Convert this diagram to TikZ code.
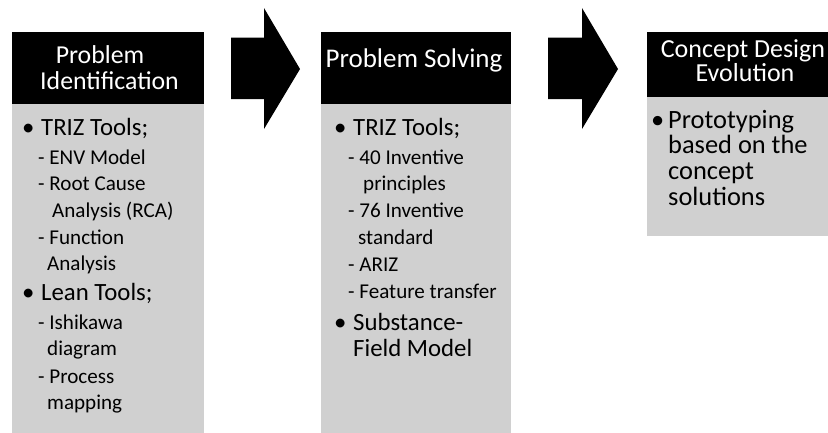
\documentclass[tikz,border=0pt]{standalone}
\usepackage{fontspec}
\setmainfont{Carlito}
\definecolor{bodygray}{RGB}{208,208,208}
\begin{document}
\begin{tikzpicture}[x=1pt,y=-1pt,
  hdr/.style={fill=black},
  bodybox/.style={fill=bodygray},
  blockarrow/.style={fill=black},
  htext/.style={text=white,inner sep=0pt,anchor=base,font=\fontsize{25.8}{25.8}\selectfont},
  btext/.style={inner sep=0pt,anchor=base west,font=\fontsize{24.8}{24.8}\selectfont},
  ctext/.style={inner sep=0pt,anchor=base west,font=\fontsize{26.4}{26.4}\selectfont},
  stext/.style={inner sep=0pt,anchor=base west,font=\fontsize{21.1}{21.1}\selectfont}]
\useasboundingbox (0,0) rectangle (828,432);
\clip (0,0) rectangle (828,432);
% boxes
\fill[bodybox] (12,104) rectangle (204,440);
\fill[hdr] (12,32) rectangle (204,104);
\fill[bodybox] (321,104) rectangle (511,440);
\fill[hdr] (321,32) rectangle (511,104);
\fill[bodybox] (647,97) rectangle (839,236);
\fill[hdr] (647,32) rectangle (839,97);
% block arrows
\fill[blockarrow] (231,37.5) -- (264,37.5) -- (264,8) -- (300,69) -- (264,129) -- (264,99) -- (231,99) -- cycle;
\fill[blockarrow] (548,37.5) -- (582,37.5) -- (582,8) -- (618,69) -- (582,129) -- (582,99) -- (548,99) -- cycle;
% headers
\node[htext] (h1a) at (100,63) {Problem};
\node[htext] (h1b) at (109.5,89) {Identification};
\node[htext,font=\fontsize{27}{27}\selectfont] (h2) at (414,67) {Problem Solving};
\node[htext,font=\fontsize{26}{26}\selectfont] (h3a) at (743,57) {Concept Design};
\node[htext,font=\fontsize{26}{26}\selectfont] (h3b) at (745,81) {Evolution};
% box 1
\node[btext] (p1b1) at (22,135) {•};
\node[btext] (p1t1) at (41,135) {TRIZ Tools;};
\node[stext] (p1s1) at (38,164) {- ENV Model};
\node[stext] (p1s2) at (38,190.7) {- Root Cause};
\node[stext] (p1s3) at (52,217) {Analysis (RCA)};
\node[stext] (p1s4) at (38,244) {- Function};
\node[stext] (p1s5) at (47,270.7) {Analysis};
\node[btext] (p1b2) at (22,300) {•};
\node[btext] (p1t2) at (41,300) {Lean Tools;};
\node[stext] (p1s6) at (38,329) {- Ishikawa};
\node[stext] (p1s7) at (47,355) {diagram};
\node[stext] (p1s8) at (38,383) {- Process};
\node[stext] (p1s9) at (47,409) {mapping};
% box 2
\node[btext] (p2b1) at (334,135) {•};
\node[btext] (p2t1) at (353,135) {TRIZ Tools;};
\node[stext] (p2s1) at (348,164) {- 40 Inventive};
\node[stext] (p2s2) at (363,190.7) {principles};
\node[stext] (p2s3) at (348,217) {- 76 Inventive};
\node[stext] (p2s4) at (358,244) {standard};
\node[stext] (p2s5) at (348,271.5) {- ARIZ};
\node[stext] (p2s6) at (348,298) {- Feature transfer};
\node[btext] (p2b2) at (334,330) {•};
\node[btext] (p2t2) at (353,330) {Substance-};
\node[btext] (p2t3) at (353,356.7) {Field Model};
% box 3
\node[ctext] (p3b1) at (651,128) {•};
\node[ctext] (p3t1) at (668,128) {Prototyping};
\node[ctext] (p3t2) at (668,153) {based on the};
\node[ctext] (p3t3) at (668,179) {concept};
\node[ctext] (p3t4) at (668,205) {solutions};
\end{tikzpicture}
\end{document}
